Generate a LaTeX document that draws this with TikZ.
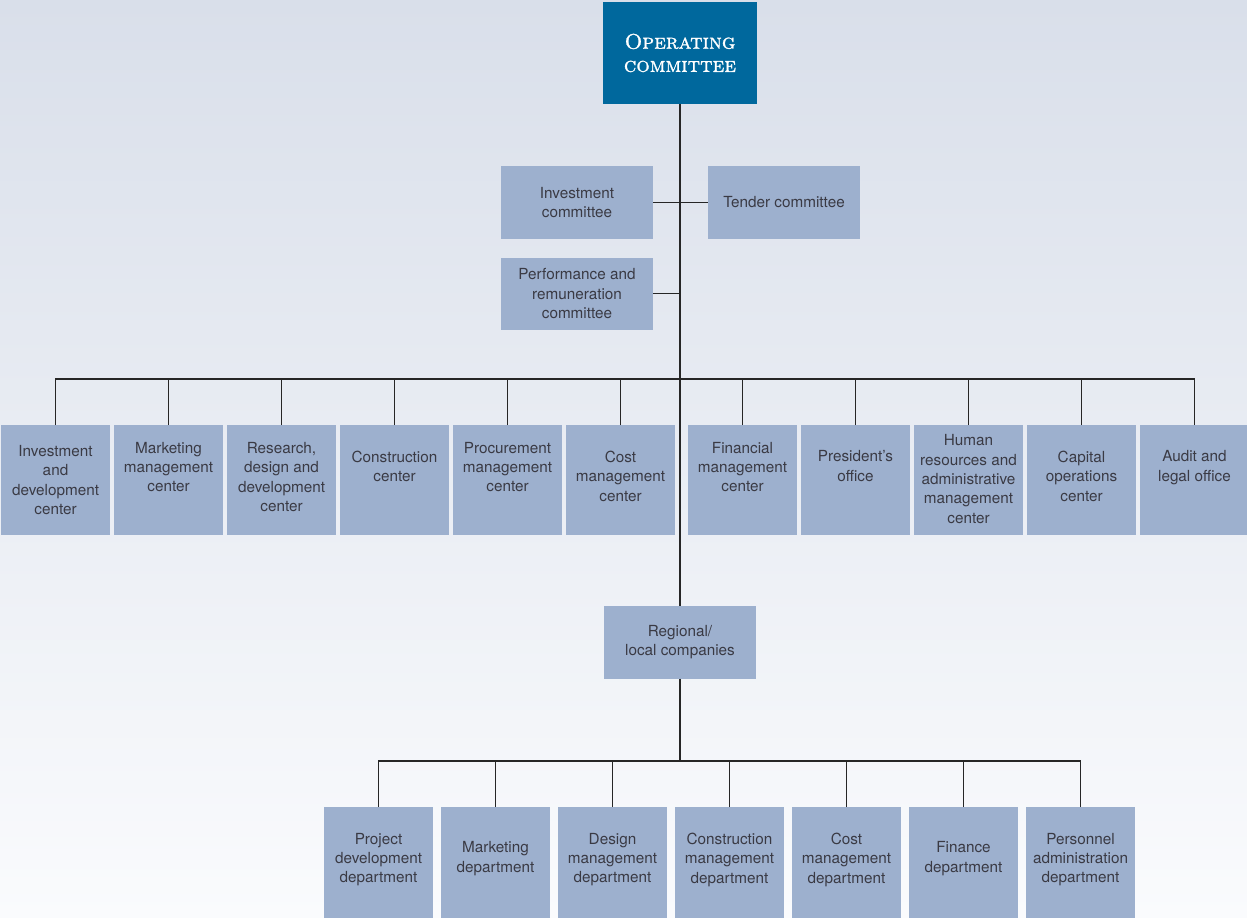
\documentclass[tikz,border=0pt]{standalone}
\usepackage{fontspec}
\newfontfamily\heros{TeX Gyre Heros}
\newfontfamily\titlefont{lmromancaps10-regular.otf}[FakeBold=1.2]
\usetikzlibrary{positioning}
\definecolor{boxblue}{HTML}{9DB0CE}
\definecolor{topblue}{HTML}{00689D}
\definecolor{inkgrey}{HTML}{3A3A44}
\definecolor{linegrey}{HTML}{262626}
\definecolor{bgtop}{HTML}{D9DFEA}
\definecolor{bgmid}{HTML}{E7EAF1}
\definecolor{bgbot}{HTML}{FAFBFD}

\begin{document}
\begin{tikzpicture}[
    node distance=0.08cm,
    every node/.style={outer sep=0pt},
    topbox/.style={
        fill=topblue,
        text=white,
        minimum width=3.08cm,
        minimum height=2.04cm,
        align=center,
        font=\titlefont\fontsize{12}{13.2}\selectfont,
    },
    combox/.style={
        fill=boxblue,
        text=inkgrey,
        minimum width=3.04cm,
        minimum height=1.45cm,
        align=center,
        font=\heros\fontsize{8.7}{11}\selectfont,
    },
    unitbox/.style={
        fill=boxblue,
        text=inkgrey,
        minimum width=2.18cm,
        minimum height=2.2cm,
        inner xsep=0.05cm,
        align=center,
        font=\heros\fontsize{8.7}{11}\selectfont,
    },
    deptbox/.style={
        unitbox,
        minimum height=2.3cm,
        text depth=0.26cm,
    },
    lift/.style={text depth=#1},
    link/.style={draw=linegrey, line width=0.7pt},
]

\useasboundingbox (0,0) rectangle (24.94,-18.36);
\shade[top color=bgtop, middle color=bgmid, bottom color=bgbot] (0,0) rectangle (24.94,-18.36);

\node[topbox] (opcom) at (13.6,-1.06) {Operating\\committee};

\node[combox, anchor=north east] (invcom) at (13.06,-3.32) {Investment\\committee};
\node[combox, anchor=north west] (tender) at (14.16,-3.32) {Tender committee};
\node[combox, below=0.38cm of invcom] (perfcom) {Performance and\\remuneration\\committee};

\node[unitbox, anchor=north west] (invdev) at (0.02,-8.5) {Investment\\and\\development\\center};
\node[unitbox, right=of invdev, lift=0.52cm] (mkt) {Marketing\\management\\center};
\node[unitbox, right=of mkt, lift=0.12cm] (rnd) {Research,\\design and\\development\\center};
\node[unitbox, right=of rnd, lift=0.56cm] (constr) {Construction\\center};
\node[unitbox, right=of constr, lift=0.52cm] (procure) {Procurement\\management\\center};
\node[unitbox, right=of procure, lift=0.16cm] (costc) {Cost\\management\\center};
\node[unitbox, right=0.26cm of costc, lift=0.52cm] (fin) {Financial\\management\\center};
\node[unitbox, right=of fin, lift=0.56cm] (pres) {President’s\\office};
\node[unitbox, right=of pres, lift=0.04cm] (hr) {Human\\resources and\\administrative\\management\\center};
\node[unitbox, right=of hr, lift=0.16cm] (capops) {Capital\\operations\\center};
\node[unitbox, right=of capops, lift=0.56cm] (audit) {Audit and\\legal office};

\node[combox, anchor=north] (regional) at (13.6,-12.12) {Regional/\\local companies};

\node[deptbox, anchor=north west] (projdev) at (6.48,-16.14) {Project\\development\\department};
\node[deptbox, right=0.16cm of projdev, lift=0.3cm] (mktdep) {Marketing\\department};
\node[deptbox, right=0.16cm of mktdep] (design) {Design\\management\\department};
\node[deptbox, right=0.16cm of design] (constrdep) {Construction\\management\\department};
\node[deptbox, right=0.16cm of constrdep] (costdep) {Cost\\management\\department};
\node[deptbox, right=0.16cm of costdep, lift=0.3cm] (finance) {Finance\\department};
\node[deptbox, right=0.16cm of finance] (personnel) {Personnel\\administration\\department};

\coordinate (bus) at (13.6,-7.58);
\coordinate (lowbus) at (13.6,-15.22);

\draw[link] (opcom.south) -- (regional.north);
\draw[link] (invcom.east) -- (tender.west);
\draw[link] (perfcom.east) -- (perfcom.east -| opcom.south);

\draw[link] (invdev.north) |- (bus) -| (audit.north);
\foreach \unit in {mkt,rnd,constr,procure,costc,fin,pres,hr,capops}
    \draw[link] (\unit.north) -- (\unit.north |- bus);

\draw[link] (regional.south) -- (lowbus);
\draw[link] (projdev.north) |- (lowbus) -| (personnel.north);
\foreach \dept in {mktdep,design,constrdep,costdep,finance}
    \draw[link] (\dept.north) -- (\dept.north |- lowbus);
\end{tikzpicture}
\end{document}
